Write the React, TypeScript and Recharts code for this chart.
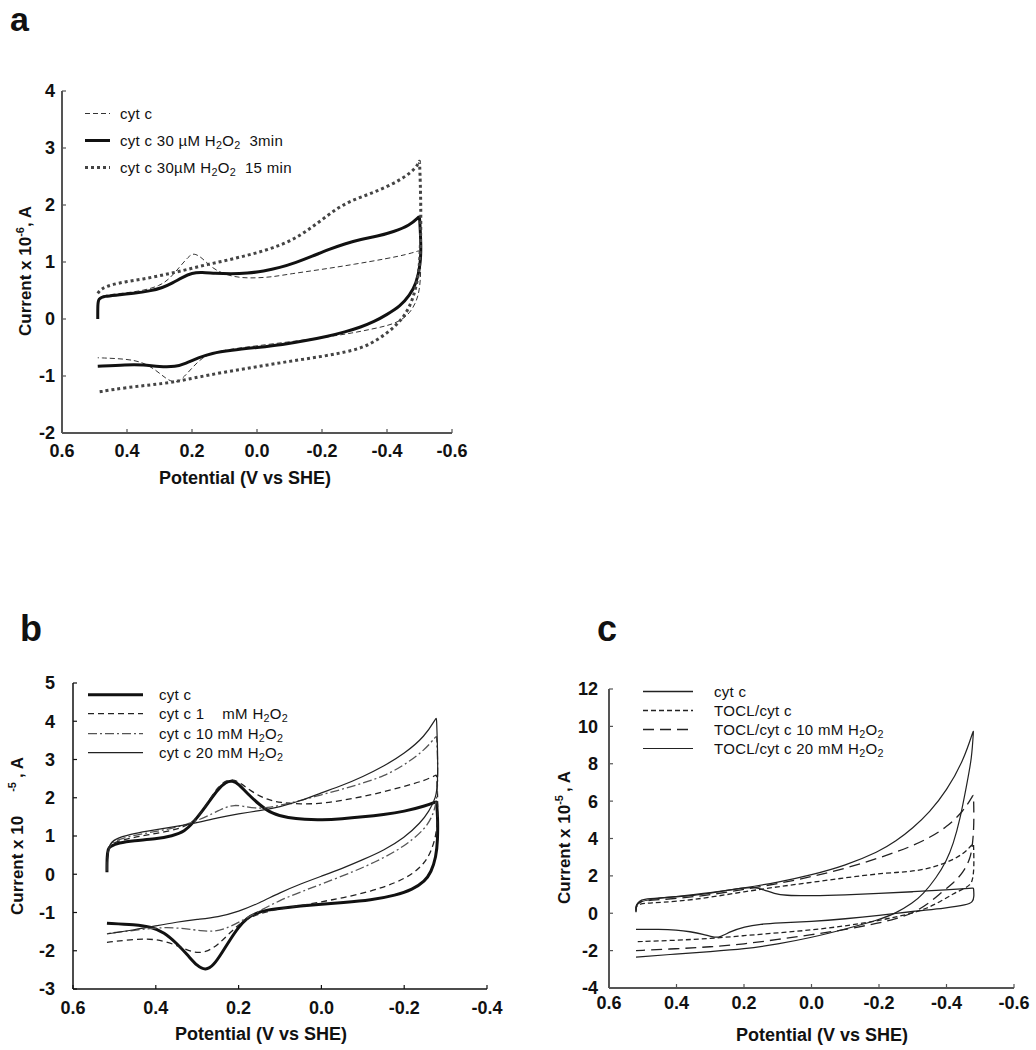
import React from 'react';
import { LineChart, Line, XAxis, YAxis, Legend } from 'recharts';

type Pt = [number, number];

// ---------- axis ticks ----------
const potTicksA = [0.6, 0.4, 0.2, 0.0, -0.2, -0.4, -0.6];
const curTicksA = [-2, -1, 0, 1, 2, 3, 4];
const potTicksB = [0.6, 0.4, 0.2, 0.0, -0.2, -0.4];
const curTicksB = [-3, -2, -1, 0, 1, 2, 3, 4, 5];
const potTicksC = [0.6, 0.4, 0.2, 0.0, -0.2, -0.4, -0.6];
const curTicksC = [-4, -2, 0, 2, 4, 6, 8, 10, 12];

// ---------- panel a: [potential V, current x1e-6 A] ----------
const aCytC: Pt[] = [
  [0.49, 0.3], [0.485, 0.4], [0.45, 0.43], [0.4, 0.46], [0.35, 0.5], [0.3, 0.58], [0.27, 0.7], [0.24, 0.9],
  [0.21, 1.1], [0.195, 1.16], [0.17, 1.08], [0.14, 0.9], [0.1, 0.78], [0.05, 0.72], [0.0, 0.72], [-0.05, 0.74],
  [-0.1, 0.79], [-0.2, 0.87], [-0.3, 0.96], [-0.4, 1.06], [-0.46, 1.13], [-0.5, 1.2], [-0.5, 1.2], [-0.505, 0.85],
  [-0.5, 0.5], [-0.49, 0.3], [-0.47, 0.1], [-0.44, -0.04], [-0.4, -0.12], [-0.35, -0.18], [-0.3, -0.24],
  [-0.2, -0.33], [-0.1, -0.4], [0.0, -0.47], [0.07, -0.52], [0.13, -0.58], [0.17, -0.68], [0.2, -0.86],
  [0.23, -1.05], [0.25, -1.13], [0.28, -1.05], [0.31, -0.9], [0.35, -0.76], [0.4, -0.7], [0.49, -0.68],
];
const aCytC3min: Pt[] = [
  [0.49, 0.0], [0.49, 0.25], [0.488, 0.36], [0.47, 0.4], [0.43, 0.42], [0.38, 0.45], [0.33, 0.49], [0.29, 0.55],
  [0.26, 0.63], [0.23, 0.73], [0.2, 0.81], [0.17, 0.82], [0.13, 0.8], [0.08, 0.79], [0.03, 0.8], [-0.02, 0.84],
  [-0.07, 0.9], [-0.12, 0.99], [-0.17, 1.1], [-0.22, 1.22], [-0.27, 1.32], [-0.32, 1.4], [-0.37, 1.45],
  [-0.42, 1.53], [-0.47, 1.64], [-0.5, 1.8], [-0.5, 1.8], [-0.505, 1.3], [-0.503, 0.95], [-0.49, 0.62],
  [-0.47, 0.42], [-0.44, 0.22], [-0.4, 0.08], [-0.36, -0.05], [-0.32, -0.14], [-0.27, -0.23], [-0.22, -0.3],
  [-0.15, -0.38], [-0.08, -0.45], [0.0, -0.5], [0.08, -0.55], [0.14, -0.6], [0.18, -0.68], [0.22, -0.78],
  [0.25, -0.84], [0.3, -0.84], [0.35, -0.8], [0.4, -0.8], [0.49, -0.83],
];
const aCytC15min: Pt[] = [
  [0.49, 0.45], [0.48, 0.53], [0.45, 0.6], [0.4, 0.66], [0.35, 0.7], [0.3, 0.76], [0.25, 0.82], [0.2, 0.89],
  [0.15, 0.96], [0.1, 1.02], [0.05, 1.09], [0.0, 1.16], [-0.05, 1.25], [-0.1, 1.36], [-0.15, 1.53], [-0.2, 1.74],
  [-0.25, 1.96], [-0.3, 2.1], [-0.35, 2.2], [-0.4, 2.32], [-0.45, 2.47], [-0.49, 2.65], [-0.5, 2.78],
  [-0.5, 2.78], [-0.505, 2.0], [-0.503, 1.0], [-0.49, 0.55], [-0.47, 0.2], [-0.44, -0.05], [-0.4, -0.25],
  [-0.35, -0.44], [-0.3, -0.55], [-0.2, -0.66], [-0.1, -0.74], [0.0, -0.84], [0.1, -0.93], [0.2, -1.04],
  [0.25, -1.1], [0.3, -1.14], [0.4, -1.2], [0.49, -1.28],
];

// ---------- panel b: [potential V, current x1e-5 A] ----------
const bCytC: Pt[] = [
  [0.518, 0.05], [0.518, 0.45], [0.515, 0.68], [0.51, 0.73], [0.49, 0.82], [0.454, 0.88], [0.4, 0.92], [0.36, 1.0],
  [0.33, 1.12], [0.31, 1.35], [0.29, 1.62], [0.27, 1.92], [0.25, 2.22], [0.23, 2.42], [0.215, 2.45], [0.2, 2.36],
  [0.18, 2.12], [0.15, 1.82], [0.12, 1.58], [0.08, 1.47], [0.04, 1.43], [0.0, 1.42], [-0.05, 1.45], [-0.1, 1.5],
  [-0.15, 1.56], [-0.2, 1.64], [-0.25, 1.78], [-0.278, 1.9], [-0.278, 1.9], [-0.281, 1.5], [-0.281, 0.9],
  [-0.277, 0.45], [-0.265, 0.05], [-0.25, -0.18], [-0.22, -0.4], [-0.18, -0.55], [-0.12, -0.68], [-0.05, -0.74],
  [0.0, -0.78], [0.05, -0.83], [0.1, -0.89], [0.13, -0.93], [0.16, -1.02], [0.18, -1.15], [0.2, -1.38],
  [0.22, -1.7], [0.24, -2.05], [0.26, -2.38], [0.28, -2.52], [0.3, -2.4], [0.32, -2.15], [0.35, -1.8],
  [0.38, -1.52], [0.41, -1.38], [0.45, -1.32], [0.518, -1.28],
];
const bCytC1mM: Pt[] = [
  [0.518, 0.1], [0.517, 0.5], [0.512, 0.74], [0.5, 0.84], [0.46, 0.95], [0.42, 1.03], [0.38, 1.1], [0.34, 1.2],
  [0.31, 1.36], [0.29, 1.62], [0.27, 1.95], [0.25, 2.28], [0.23, 2.46], [0.21, 2.48], [0.19, 2.34], [0.16, 2.1],
  [0.13, 1.95], [0.1, 1.87], [0.05, 1.83], [0.0, 1.85], [-0.05, 1.93], [-0.1, 2.03], [-0.15, 2.15], [-0.2, 2.3],
  [-0.25, 2.45], [-0.278, 2.6], [-0.278, 2.6], [-0.281, 2.1], [-0.281, 1.5], [-0.277, 1.0], [-0.265, 0.6],
  [-0.25, 0.3], [-0.22, 0.0], [-0.18, -0.22], [-0.12, -0.45], [-0.05, -0.62], [0.0, -0.72], [0.05, -0.82],
  [0.1, -0.9], [0.15, -1.02], [0.19, -1.22], [0.22, -1.52], [0.25, -1.85], [0.28, -2.05], [0.31, -2.05],
  [0.34, -1.9], [0.38, -1.74], [0.42, -1.68], [0.47, -1.72], [0.518, -1.78],
];
const bCytC10mM: Pt[] = [
  [0.518, 0.1], [0.517, 0.5], [0.512, 0.76], [0.5, 0.88], [0.46, 1.0], [0.42, 1.08], [0.38, 1.16], [0.34, 1.25],
  [0.3, 1.4], [0.26, 1.6], [0.23, 1.76], [0.21, 1.81], [0.19, 1.78], [0.16, 1.72], [0.13, 1.74], [0.1, 1.8],
  [0.05, 1.93], [0.0, 2.08], [-0.05, 2.22], [-0.1, 2.38], [-0.15, 2.56], [-0.2, 2.85], [-0.25, 3.25],
  [-0.278, 3.62], [-0.278, 3.62], [-0.281, 3.0], [-0.281, 2.3], [-0.277, 1.8], [-0.265, 1.45], [-0.25, 1.2],
  [-0.22, 0.9], [-0.18, 0.6], [-0.13, 0.32], [-0.08, 0.08], [0.0, -0.26], [0.05, -0.46], [0.1, -0.68],
  [0.15, -0.96], [0.2, -1.26], [0.23, -1.42], [0.26, -1.5], [0.29, -1.48], [0.33, -1.42], [0.38, -1.38],
  [0.44, -1.45], [0.518, -1.55],
];
const bCytC20mM: Pt[] = [
  [0.518, 0.1], [0.517, 0.5], [0.512, 0.78], [0.5, 0.92], [0.46, 1.05], [0.42, 1.13], [0.38, 1.2], [0.34, 1.27],
  [0.3, 1.35], [0.25, 1.48], [0.2, 1.58], [0.15, 1.66], [0.1, 1.76], [0.05, 1.92], [0.0, 2.13], [-0.05, 2.32],
  [-0.1, 2.55], [-0.15, 2.82], [-0.2, 3.15], [-0.25, 3.6], [-0.278, 4.1], [-0.278, 4.1], [-0.281, 3.2],
  [-0.281, 2.4], [-0.277, 2.0], [-0.26, 1.65], [-0.24, 1.35], [-0.2, 0.95], [-0.15, 0.62], [-0.1, 0.38],
  [-0.05, 0.15], [0.0, -0.05], [0.05, -0.25], [0.1, -0.48], [0.15, -0.75], [0.2, -0.98], [0.25, -1.12],
  [0.3, -1.18], [0.35, -1.25], [0.4, -1.35], [0.45, -1.45], [0.518, -1.56],
];

// ---------- panel c: [potential V, current x1e-5 A] ----------
const cCytC: Pt[] = [
  [0.52, 0.05], [0.52, 0.45], [0.51, 0.65], [0.5, 0.75], [0.45, 0.82], [0.4, 0.88], [0.35, 0.95], [0.3, 1.08],
  [0.25, 1.22], [0.2, 1.36], [0.17, 1.4], [0.14, 1.25], [0.11, 1.05], [0.08, 0.95], [0.0, 0.93], [-0.1, 0.98],
  [-0.2, 1.06], [-0.3, 1.15], [-0.4, 1.25], [-0.48, 1.35], [-0.48, 1.35], [-0.482, 0.9], [-0.478, 0.6],
  [-0.46, 0.45], [-0.4, 0.28], [-0.3, 0.1], [-0.2, -0.12], [-0.1, -0.3], [0.0, -0.44], [0.1, -0.52],
  [0.15, -0.58], [0.2, -0.72], [0.24, -0.98], [0.27, -1.28], [0.29, -1.3], [0.32, -1.12], [0.36, -0.98],
  [0.4, -0.9], [0.45, -0.86], [0.52, -0.86],
];
const cToclCytC: Pt[] = [
  [0.52, 0.15], [0.52, 0.35], [0.51, 0.5], [0.48, 0.56], [0.4, 0.62], [0.3, 0.85], [0.2, 1.15], [0.1, 1.42],
  [0.0, 1.65], [-0.1, 1.9], [-0.2, 2.12], [-0.25, 2.18], [-0.3, 2.25], [-0.35, 2.4], [-0.4, 2.7], [-0.45, 3.15],
  [-0.48, 3.75], [-0.48, 3.75], [-0.482, 2.5], [-0.478, 1.8], [-0.47, 1.5], [-0.45, 1.3], [-0.42, 1.05],
  [-0.38, 0.6], [-0.34, 0.25], [-0.3, 0.0], [-0.2, -0.4], [-0.1, -0.68], [0.0, -0.9], [0.1, -1.05], [0.2, -1.2],
  [0.3, -1.35], [0.4, -1.45], [0.52, -1.52],
];
const cTocl10mM: Pt[] = [
  [0.52, 0.25], [0.52, 0.45], [0.51, 0.62], [0.48, 0.7], [0.4, 0.78], [0.3, 0.98], [0.2, 1.28], [0.1, 1.58],
  [0.0, 1.95], [-0.1, 2.4], [-0.2, 2.95], [-0.3, 3.6], [-0.35, 4.05], [-0.4, 4.6], [-0.45, 5.45], [-0.48, 6.35],
  [-0.48, 6.35], [-0.482, 4.8], [-0.477, 3.6], [-0.47, 2.9], [-0.45, 2.2], [-0.42, 1.6], [-0.39, 1.2],
  [-0.35, 0.55], [-0.3, 0.0], [-0.25, -0.3], [-0.2, -0.52], [-0.1, -0.88], [0.0, -1.15], [0.1, -1.4],
  [0.2, -1.65], [0.3, -1.8], [0.4, -1.9], [0.52, -2.0],
];
const cTocl20mM: Pt[] = [
  [0.52, 0.1], [0.52, 0.4], [0.51, 0.6], [0.48, 0.75], [0.4, 0.9], [0.3, 1.1], [0.2, 1.35], [0.1, 1.65],
  [0.0, 2.05], [-0.1, 2.55], [-0.2, 3.3], [-0.25, 3.85], [-0.3, 4.55], [-0.35, 5.4], [-0.4, 6.55], [-0.45, 8.15],
  [-0.48, 9.8], [-0.48, 9.8], [-0.475, 8.3], [-0.46, 6.9], [-0.44, 5.0], [-0.42, 3.7], [-0.4, 2.8],
  [-0.37, 1.9], [-0.33, 1.0], [-0.3, 0.55], [-0.25, 0.0], [-0.2, -0.35], [-0.1, -0.85], [0.0, -1.3],
  [0.1, -1.65], [0.2, -1.92], [0.3, -2.05], [0.4, -2.18], [0.52, -2.35],
];

const toRows = (arr: Pt[]) => arr.map(([v, i]) => ({ v, i }));

const FONT = '"Liberation Sans", Arial, Helvetica, sans-serif';

const Sub = ({ children }: { children: React.ReactNode }) => (
  <sub style={{ fontSize: '0.72em', verticalAlign: '-0.3em', lineHeight: 0 }}>{children}</sub>
);
const H2O2 = () => (
  <span>
    H<Sub>2</Sub>O<Sub>2</Sub>
  </span>
);

type Series = {
  key: string;
  data: Pt[];
  stroke: string;
  width: number;
  dash?: string;
  label: React.ReactNode;
};

const seriesA: Series[] = [
  { key: 'a1', data: aCytC, stroke: '#333', width: 1, dash: '5 3', label: 'cyt c' },
  {
    key: 'a2', data: aCytC3min, stroke: '#111', width: 3,
    label: (<span>cyt c 30 µM <H2O2 />&nbsp; 3min</span>),
  },
  {
    key: 'a3', data: aCytC15min, stroke: '#444', width: 3, dash: '3 3',
    label: (<span>cyt c 30µM <H2O2 />&nbsp; 15 min</span>),
  },
];
const seriesB: Series[] = [
  { key: 'b1', data: bCytC, stroke: '#111', width: 3, label: 'cyt c' },
  { key: 'b2', data: bCytC1mM, stroke: '#222', width: 1.3, dash: '6 4', label: (<span style={{ whiteSpace: 'pre' }}>cyt c 1    mM <H2O2 /></span>) },
  { key: 'b3', data: bCytC10mM, stroke: '#555', width: 1.3, dash: '9 3 2 3', label: (<span>cyt c 10 mM <H2O2 /></span>) },
  { key: 'b4', data: bCytC20mM, stroke: '#222', width: 1.2, label: (<span>cyt c 20 mM <H2O2 /></span>) },
];
const seriesC: Series[] = [
  { key: 'c1', data: cCytC, stroke: '#222', width: 1.3, label: 'cyt c' },
  { key: 'c2', data: cToclCytC, stroke: '#222', width: 1.3, dash: '5 3', label: 'TOCL/cyt c' },
  { key: 'c3', data: cTocl10mM, stroke: '#222', width: 1.3, dash: '11 6', label: (<span>TOCL/cyt c 10 mM <H2O2 /></span>) },
  { key: 'c4', data: cTocl20mM, stroke: '#222', width: 1.2, label: (<span>TOCL/cyt c 20 mM <H2O2 /></span>) },
];

type LegendSpec = { rowH: number; sampleW: number; sampleX1: number; sampleX2: number; gap: number; fontSize: number };

const makeLegend = (series: Series[], spec: LegendSpec) => () => (
  <div style={{ fontFamily: FONT, fontSize: spec.fontSize, color: '#111', letterSpacing: 0.3 }}>
    {series.map((s) => (
      <div key={s.key} style={{ height: spec.rowH, display: 'flex', alignItems: 'center' }}>
        <svg width={spec.sampleW} height={spec.rowH} style={{ flex: 'none' }}>
          <line
            x1={spec.sampleX1}
            x2={spec.sampleX2}
            y1={spec.rowH / 2}
            y2={spec.rowH / 2}
            stroke={s.stroke}
            strokeWidth={s.width}
            strokeDasharray={s.dash}
          />
        </svg>
        <span style={{ marginLeft: spec.gap, whiteSpace: 'nowrap', lineHeight: 1 }}>{s.label}</span>
      </div>
    ))}
  </div>
);

const fmt1 = (v: number) => (Math.abs(v) < 1e-9 ? '0.0' : v.toFixed(1));

type PanelProps = {
  left: number;
  top: number;
  width: number;
  height: number;
  margin: { top: number; right: number; bottom: number; left: number };
  yWidth: number;
  xDomain: [number, number];
  xTicks: number[];
  yDomain: [number, number];
  yTicks: number[];
  series: Series[];
  axisColor: string;
  axisWidth: number;
  xTickMargin: number;
  yTickMargin: number;
  xTitle: { x: number; y: number };
  yTitle: (props: any) => React.ReactElement;
  legendPos: { left: number; top: number };
  legendSpec: LegendSpec;
};

const tickStyle = { fontSize: 18, fontWeight: 700, fill: '#111', fontFamily: FONT };

const Panel = (p: PanelProps) => (
  <div style={{ position: 'absolute', left: p.left, top: p.top }}>
    <LineChart width={p.width} height={p.height} margin={p.margin}>
      <XAxis
        type="number"
        dataKey="v"
        domain={p.xDomain}
        ticks={p.xTicks}
        reversed
        allowDataOverflow
        interval={0}
        height={60}
        tickFormatter={fmt1}
        tick={tickStyle}
        tickSize={-4}
        tickMargin={p.xTickMargin}
        axisLine={{ stroke: p.axisColor, strokeWidth: p.axisWidth }}
        tickLine={{ stroke: p.axisColor, strokeWidth: 1.2 }}
        label={() => (
          <text x={p.xTitle.x} y={p.xTitle.y} textAnchor="middle" fontSize={18} fontWeight={700} fill="#111" fontFamily={FONT}>
            Potential (V vs SHE)
          </text>
        )}
      />
      <YAxis
        type="number"
        dataKey="i"
        domain={p.yDomain}
        ticks={p.yTicks}
        allowDataOverflow
        interval={0}
        width={p.yWidth}
        tick={tickStyle}
        tickSize={-4}
        tickMargin={p.yTickMargin}
        axisLine={{ stroke: p.axisColor, strokeWidth: p.axisWidth }}
        tickLine={{ stroke: p.axisColor, strokeWidth: 1.2 }}
        label={p.yTitle}
      />
      {p.series.map((s) => (
        <Line
          key={s.key}
          data={toRows(s.data)}
          dataKey="i"
          type="basis"
          stroke={s.stroke}
          strokeWidth={s.width}
          strokeDasharray={s.dash}
          dot={false}
          activeDot={false}
          isAnimationActive={false}
          legendType="line"
        />
      ))}
      <Legend
        layout="horizontal"
        verticalAlign="middle"
        align="center"
        wrapperStyle={{ left: p.legendPos.left, top: p.legendPos.top, width: 'auto' }}
        content={makeLegend(p.series, p.legendSpec)}
      />
    </LineChart>
  </div>
);

const yTitleA = () => (
  <text x={31} y={336} transform="rotate(-90 31 336)" fontSize={17} fontWeight={700} fill="#111" fontFamily={FONT}>
    Current x 10
    <tspan dy={-7} fontSize={11}>-6</tspan>
    <tspan dy={7}>, A</tspan>
  </text>
);
const yTitleB = () => (
  <text x={23} y={355} transform="rotate(-90 23 355)" fontSize={17} fontWeight={700} fill="#111" fontFamily={FONT}>
    Current x 10
    <tspan dx={24} dy={-7} fontSize={11}>-5</tspan>
    <tspan dx={4} dy={7}>, A</tspan>
  </text>
);
const yTitleC = () => (
  <text x={30} y={344} transform="rotate(-90 30 344)" fontSize={17} fontWeight={700} fill="#111" fontFamily={FONT}>
    Current x 10
    <tspan dy={-7} fontSize={11}>-5</tspan>
    <tspan dx={3} dy={7}>, A</tspan>
  </text>
);

const PanelLetters = () => (
  <svg style={{ position: 'absolute', left: 0, top: 0, pointerEvents: 'none' }} width={1036} height={1050}>
    <text x={10} y={31} fontSize={34} fontWeight={700} fill="#111" fontFamily={FONT}>a</text>
    <text x={20} y={641} fontSize={36} fontWeight={700} fill="#111" fontFamily={FONT}>b</text>
    <text x={597} y={641} fontSize={36} fontWeight={700} fill="#111" fontFamily={FONT}>c</text>
  </svg>
);

export default function App() {
  return (
    <div style={{ position: 'absolute', left: 0, top: 0, width: 1036, height: 1050, background: '#fff', fontFamily: FONT }}>
      <Panel
        left={0}
        top={0}
        width={470}
        height={500}
        margin={{ top: 91, right: 18, bottom: 7, left: 0 }}
        yWidth={62}
        xDomain={[-0.6, 0.6]}
        xTicks={potTicksA}
        yDomain={[-2, 4]}
        yTicks={curTicksA}
        series={seriesA}
        axisColor="#555"
        axisWidth={2}
        xTickMargin={15}
        yTickMargin={11}
        xTitle={{ x: 245, y: 484 }}
        yTitle={yTitleA}
        legendPos={{ left: 83, top: 100 }}
        legendSpec={{ rowH: 27, sampleW: 30, sampleX1: 2, sampleX2: 27, gap: 7, fontSize: 15 }}
      />
      <Panel
        left={0}
        top={560}
        width={530}
        height={490}
        margin={{ top: 123, right: 43, bottom: 1, left: 0 }}
        yWidth={73}
        xDomain={[-0.4, 0.6]}
        xTicks={potTicksB}
        yDomain={[-3, 5]}
        yTicks={curTicksB}
        series={seriesB}
        axisColor="#111"
        axisWidth={1.5}
        xTickMargin={16}
        yTickMargin={22}
        xTitle={{ x: 261, y: 480 }}
        yTitle={yTitleB}
        legendPos={{ left: 86, top: 125 }}
        legendSpec={{ rowH: 19.3, sampleW: 60, sampleX1: 2, sampleX2: 57, gap: 13, fontSize: 15 }}
      />
      <Panel
        left={540}
        top={560}
        width={496}
        height={490}
        margin={{ top: 129, right: 22, bottom: 2, left: 0 }}
        yWidth={69}
        xDomain={[-0.6, 0.6]}
        xTicks={potTicksC}
        yDomain={[-4, 12]}
        yTicks={curTicksC}
        series={seriesC}
        axisColor="#555"
        axisWidth={2}
        xTickMargin={12}
        yTickMargin={15}
        xTitle={{ x: 282, y: 481 }}
        yTitle={yTitleC}
        legendPos={{ left: 100, top: 122 }}
        legendSpec={{ rowH: 19, sampleW: 56, sampleX1: 3, sampleX2: 53, gap: 18, fontSize: 15 }}
      />
      <PanelLetters />
    </div>
  );
}
